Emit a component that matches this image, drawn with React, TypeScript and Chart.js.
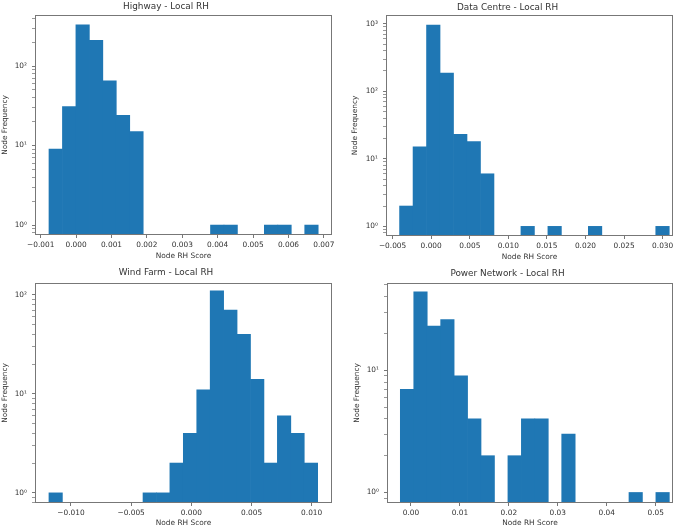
import React, { useEffect, useRef } from "react";
import { Chart, registerables } from "chart.js";

Chart.register(...registerables);

// ---- Data (histogram counts, 20 equal bins each; 0 = empty bin) ----
const highwayCounts = [9, 31, 330, 210, 65, 24, 15, 0, 0, 0, 0, 0, 1, 1, 0, 0, 1, 1, 0, 1];
const highwayRange = [-0.000765, 0.00684];
const highwayTicks = [-0.001, 0.0, 0.001, 0.002, 0.003, 0.004, 0.005, 0.006, 0.007];

const dataCentreCounts = [2, 15, 950, 185, 23, 18, 6, 0, 0, 1, 0, 1, 0, 0, 1, 0, 0, 0, 0, 1];
const dataCentreRange = [-0.004094, 0.030854];
const dataCentreTicks = [-0.005, 0.0, 0.005, 0.01, 0.015, 0.02, 0.025, 0.03];

const windFarmCounts = [1, 0, 0, 0, 0, 0, 0, 1, 1, 2, 4, 11, 110, 70, 40, 14, 2, 6, 4, 2];
const windFarmRange = [-0.011826, 0.010498];
const windFarmTicks = [-0.01, -0.005, 0.0, 0.005, 0.01];

const powerCounts = [7, 44, 23, 26, 9, 4, 2, 0, 2, 4, 4, 0, 3, 0, 0, 0, 0, 1, 0, 1];
const powerRange = [-0.002177, 0.05279];
const powerTicks = [0.0, 0.01, 0.02, 0.03, 0.04, 0.05];

const titles = ["Highway - Local RH", "Data Centre - Local RH", "Wind Farm - Local RH", "Power Network - Local RH"];
const xLabel = "Node RH Score";
const yLabel = "Node Frequency";

const FONT = "'DejaVu Sans', sans-serif";
const TEXT = "#333";
const SPINE = "#777";
const BAR = "#1f77b4";

const SUP: Record<string, string> = { "0": "\u2070", "1": "\u00b9", "2": "\u00b2", "3": "\u00b3", "-": "\u207b" };

type Panel = {
  title: string;
  counts: number[];
  range: number[];
  ticks: number[];
  decimals: number;
  xMin: number;
  xMax: number;
  yMin: number;
  yMax: number;
  pos: { left: number; top: number; width: number; height: number };
  area: { left: number; top: number; right: number; bottom: number };
  titlePad: { top: number; bottom: number };
  yTitlePad: number;
};

const panels: Panel[] = [
  {
    title: titles[0], counts: highwayCounts, range: highwayRange, ticks: highwayTicks, decimals: 3,
    xMin: -0.00116, xMax: 0.00723, yMin: 0.75, yMax: 440,
    pos: { left: 0, top: 0, width: 342, height: 261 },
    area: { left: 35, top: 15, right: 332, bottom: 235 },
    titlePad: { top: 1.5, bottom: 2.7 }, yTitlePad: 0.6,
  },
  {
    title: titles[1], counts: dataCentreCounts, range: dataCentreRange, ticks: dataCentreTicks, decimals: 3,
    xMin: -0.005854, xMax: 0.03134, yMin: 0.72, yMax: 1350,
    pos: { left: 342, top: 0, width: 343, height: 262 },
    area: { left: 44, top: 15, right: 331, bottom: 236 },
    titlePad: { top: 1.9, bottom: 2.3 }, yTitlePad: 8.6,
  },
  {
    title: titles[2], counts: windFarmCounts, range: windFarmRange, ticks: windFarmTicks, decimals: 3,
    xMin: -0.012985, xMax: 0.011687, yMin: 0.79, yMax: 132,
    pos: { left: 0, top: 262, width: 342, height: 266 },
    area: { left: 35, top: 21, right: 332, bottom: 241 },
    titlePad: { top: 4.9, bottom: 5.3 }, yTitlePad: 0.6,
  },
  {
    title: titles[3], counts: powerCounts, range: powerRange, ticks: powerTicks, decimals: 2,
    xMin: -0.004898, xMax: 0.05354, yMin: 0.82, yMax: 52,
    pos: { left: 342, top: 262, width: 343, height: 266 },
    area: { left: 45, top: 21, right: 331, bottom: 241 },
    titlePad: { top: 5.9, bottom: 4.3 }, yTitlePad: 10.3,
  },
];

function fmtX(v: number, d: number): string {
  let s = v.toFixed(d);
  if (/^-0\.0+$/.test(s)) s = s.slice(1);
  return s.replace("-", "\u2212");
}

function powLabel(v: number): string {
  const e = Math.round(Math.log10(v));
  return "10" + String(e).split("").map((c) => SUP[c] || c).join("");
}

const boxPlugin = {
  id: "box",
  afterDatasetsDraw(chart: any) {
    const { ctx, chartArea } = chart;
    ctx.save();
    ctx.strokeStyle = SPINE;
    ctx.lineWidth = 1;
    ctx.strokeRect(
      Math.round(chartArea.left) + 0.5,
      Math.round(chartArea.top) + 0.5,
      Math.round(chartArea.right - chartArea.left) - 1,
      Math.round(chartArea.bottom - chartArea.top) - 1
    );
    ctx.restore();
  },
};

function HistPanel({ p }: { p: Panel }) {
  const ref = useRef<HTMLCanvasElement | null>(null);
  useEffect(() => {
    if (!ref.current) return;
    const n = p.counts.length;
    const w = (p.range[1] - p.range[0]) / n;
    const data = p.counts.map((c, i) => ({ x: p.range[0] + (i + 0.5) * w, y: c > 0 ? c : null }));
    const yWidth = p.area.left;
    const xHeight = p.pos.height - p.area.bottom;
    const rightPad = p.pos.width - p.area.right;
    const chart = new Chart(ref.current, {
      type: "bar",
      data: {
        datasets: [
          {
            data: data as any,
            backgroundColor: BAR,
            borderWidth: 0,
            barPercentage: 1,
            categoryPercentage: 1,
            grouped: false,
          } as any,
        ],
      },
      options: {
        responsive: false,
        animation: false,
        devicePixelRatio: 1,
        layout: { padding: { left: 0, right: rightPad, top: 0, bottom: 0 } },
        plugins: {
          legend: { display: false },
          tooltip: { enabled: false },
          title: {
            display: true,
            text: p.title,
            color: TEXT,
            font: { family: FONT, size: 8.9, weight: "normal" },
            padding: { top: p.titlePad.top, bottom: p.titlePad.bottom },
          },
        },
        scales: {
          x: {
            type: "linear",
            min: p.xMin,
            max: p.xMax,
            bounds: "data",
            offset: false,
            border: { display: false },
            grid: { display: true, drawOnChartArea: false, drawTicks: true, tickLength: 3, tickColor: SPINE, offset: false },
            afterBuildTicks: (scale: any) => {
              scale.ticks = p.ticks.map((v) => ({ value: v }));
            },
            afterFit: (scale: any) => {
              scale.height = xHeight;
              scale.paddingLeft = 0;
              scale.paddingRight = 0;
            },
            ticks: {
              autoSkip: false,
              maxRotation: 0,
              minRotation: 0,
              padding: 3,
              color: TEXT,
              font: { family: FONT, size: 7.4 },
              callback: (v: any) => fmtX(Number(v), p.decimals),
            },
            title: {
              display: true,
              text: xLabel,
              color: TEXT,
              font: { family: FONT, size: 7.4 },
              padding: { top: 0, bottom: 0 },
            },
          },
          y: {
            type: "logarithmic",
            min: p.yMin,
            max: p.yMax,
            bounds: "data",
            border: { display: false },
            grid: {
              display: true,
              drawOnChartArea: false,
              drawTicks: true,
              tickLength: 3,
              tickColor: (ctx: any) => (ctx.tick && ctx.tick.major ? SPINE : "#999"),
            },
            afterBuildTicks: (scale: any) => {
              const out: any[] = [];
              const e0 = Math.floor(Math.log10(p.yMin));
              const e1 = Math.ceil(Math.log10(p.yMax));
              for (let e = e0; e <= e1; e++) {
                for (let k = 1; k <= 9; k++) {
                  const v = k * Math.pow(10, e);
                  if (v >= p.yMin && v <= p.yMax) out.push({ value: v, major: k === 1 });
                }
              }
              scale.ticks = out;
            },
            afterFit: (scale: any) => {
              scale.width = yWidth;
              scale.paddingTop = 0;
              scale.paddingBottom = 0;
            },
            ticks: {
              autoSkip: false,
              padding: 5,
              color: TEXT,
              font: { family: FONT, size: 7.4 },
              callback: function (this: any, v: any, i: number, ticks: any[]) {
                return ticks[i] && ticks[i].major ? powLabel(Number(v)) : "";
              },
            },
            title: {
              display: true,
              text: yLabel,
              color: TEXT,
              font: { family: FONT, size: 7.4 },
              padding: { top: p.yTitlePad, bottom: 0 },
            },
          },
        },
      } as any,
      plugins: [boxPlugin],
    });
    return () => chart.destroy();
  }, [p]);
  return (
    <canvas
      ref={ref}
      width={p.pos.width}
      height={p.pos.height}
      style={{
        position: "absolute",
        left: p.pos.left,
        top: p.pos.top,
        width: p.pos.width,
        height: p.pos.height,
      }}
    />
  );
}

export default function App() {
  return (
    <div style={{ position: "absolute", left: 0, top: 0, width: 685, height: 528, background: "#fff", overflow: "hidden" }}>
      {panels.map((p, i) => (
        <HistPanel key={i} p={p} />
      ))}
    </div>
  );
}
